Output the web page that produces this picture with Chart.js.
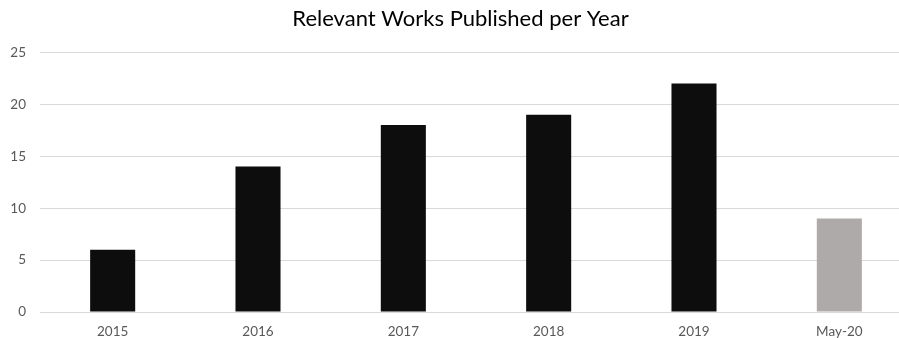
<!DOCTYPE html>
<html>
<head>
<meta charset="utf-8">
<script src="https://cdn.jsdelivr.net/npm/chart.js@4.4.0/dist/chart.umd.min.js"></script>
<style>
  html, body { margin: 0; padding: 0; background: #fff; overflow: hidden; }
  #wrap { width: 912px; height: 338px; }
</style>
</head>
<body>
<div id="wrap"><canvas id="myChart" width="912" height="338"></canvas></div>
<script>
// data
const years = ['2015', '2016', '2017', '2018', '2019', 'May-20'];
const works = [6, 14, 18, 19, 22, 9];
const barColors = ['#0d0d0d', '#0d0d0d', '#0d0d0d', '#0d0d0d', '#0d0d0d', '#aeaaaa'];
const yTicks = [0, 5, 10, 15, 20, 25];

const tickFont = { family: 'Lato', size: 13.5 };

const myChart = new Chart(document.getElementById('myChart'), {
  type: 'bar',
  data: {
    labels: years,
    datasets: [{
      data: works,
      backgroundColor: barColors,
      categoryPercentage: 1,
      barPercentage: 0.31,
    }]
  },
  options: {
    responsive: false,
    animation: false,
    // a bit of left padding nudges the title right, like the original
    layout: { padding: { left: 9, right: 0, top: 0, bottom: 0 } },
    plugins: {
      legend: { display: false },
      tooltip: { enabled: false },
      title: {
        display: true,
        text: 'Relevant Works Published per Year',
        color: '#000',
        font: { family: 'Lato', size: 22, weight: 'normal' },
        padding: { top: 6, bottom: 20 },
      }
    },
    scales: {
      x: {
        grid: { display: false, drawTicks: false },
        border: { display: true, color: '#d9d9d9' },
        ticks: { color: '#595959', font: tickFont, padding: 12, maxRotation: 0 },
        afterFit(scale) { scale.height = 26; }
      },
      y: {
        min: 0,
        max: 25,
        afterBuildTicks(scale) { scale.ticks = yTicks.map(v => ({ value: v })); },
        grid: { color: '#d9d9d9', drawTicks: false },
        border: { display: false },
        ticks: { color: '#595959', font: tickFont, padding: 14 },
        afterFit(scale) { scale.width = 31; }
      }
    }
  }
});
</script>
</body>
</html>
